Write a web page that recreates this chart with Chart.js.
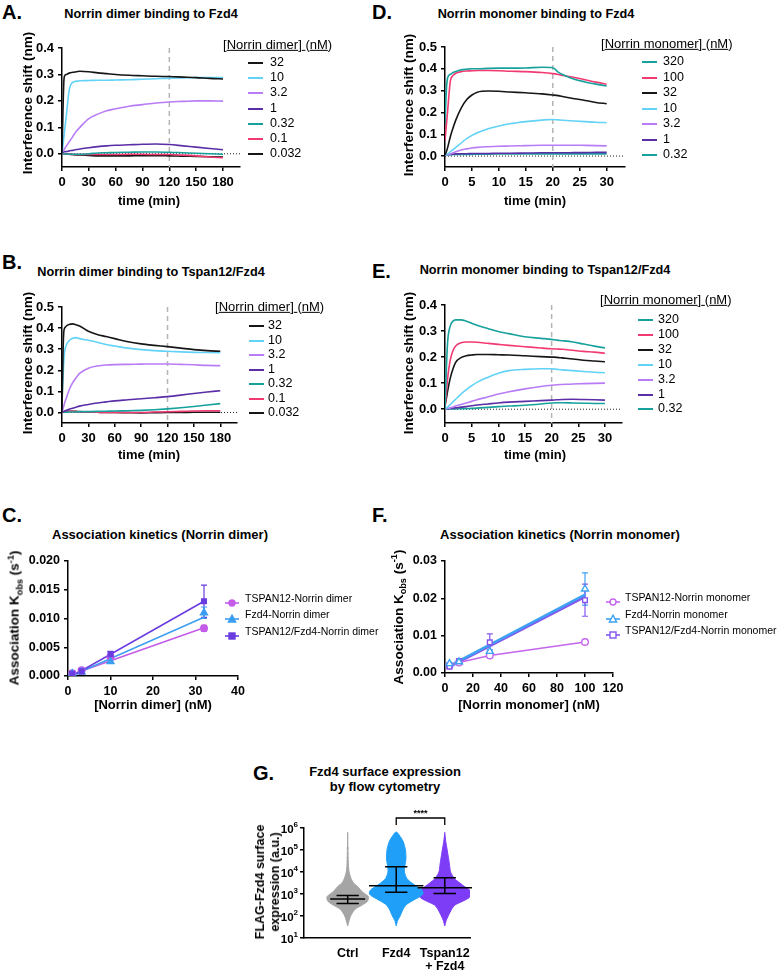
<!DOCTYPE html>
<html>
<head>
<meta charset="utf-8">
<title>Norrin binding kinetics</title>
<script src="https://cdn.jsdelivr.net/npm/chart.js@4.4.1/dist/chart.umd.min.js"></script>
<style>
  html, body { margin: 0; padding: 0; background: #fff; }
  body { position: relative; width: 779px; height: 970px; overflow: hidden;
         font-family: 'Liberation Sans', Arial, Helvetica, sans-serif; color: #000; }
  canvas { position: absolute; }
  .t { position: absolute; white-space: nowrap; line-height: 1.1; }
  .t sub, .t sup { font-size: 0.68em; line-height: 0; }
  .key { position: absolute; height: 2px; }
</style>
</head>
<body>
<script>
// ---------- BLI traces, Norrin dimer (A, B) ----------
const aT = [0, 1, 2, 3, 5, 8, 12, 16, 20, 30, 40, 50, 60, 75, 90, 105, 120, 135, 150, 165, 180];
const a32    = [0.0, 0.15, 0.27, 0.295, 0.30, 0.305, 0.308, 0.31, 0.312, 0.31, 0.306, 0.303, 0.30, 0.297, 0.295, 0.293, 0.292, 0.29, 0.288, 0.285, 0.283];
const a10    = [0.0, 0.03, 0.06, 0.09, 0.15, 0.24, 0.27, 0.274, 0.276, 0.277, 0.278, 0.278, 0.279, 0.28, 0.282, 0.284, 0.286, 0.287, 0.288, 0.288, 0.288];
const a3_2   = [0.005, 0.01, 0.015, 0.02, 0.03, 0.045, 0.065, 0.085, 0.10, 0.133, 0.15, 0.163, 0.17, 0.18, 0.186, 0.192, 0.196, 0.198, 0.2, 0.2, 0.199];
const a1     = [0.005, 0.006, 0.007, 0.008, 0.008, 0.011, 0.013, 0.016, 0.018, 0.023, 0.027, 0.03, 0.032, 0.034, 0.036, 0.037, 0.035, 0.03, 0.025, 0.02, 0.015];
const a0_32  = [0.0, 0.0, 0.0, -0.001, -0.001, -0.002, -0.002, -0.002, -0.002, 0.0, 0.003, 0.004, 0.005, 0.006, 0.007, 0.007, 0.006, 0.004, 0.002, 0.0, -0.002];
const a0_1   = [0.0, 0.0, 0.0, 0.0, -0.001, -0.002, -0.003, -0.003, -0.003, -0.003, -0.003, -0.003, -0.003, -0.002, -0.002, -0.003, -0.003, -0.005, -0.008, -0.012, -0.015];
const a0_032 = [0.0, 0.0, 0.0, 0.0, -0.001, -0.002, -0.003, -0.004, -0.004, -0.006, -0.008, -0.008, -0.008, -0.008, -0.007, -0.007, -0.008, -0.009, -0.01, -0.011, -0.012];

const b32    = [0.0, 0.25, 0.38, 0.40, 0.41, 0.417, 0.42, 0.416, 0.41, 0.385, 0.37, 0.36, 0.35, 0.335, 0.325, 0.318, 0.312, 0.305, 0.298, 0.293, 0.29];
const b10    = [0.06, 0.15, 0.24, 0.29, 0.32, 0.34, 0.352, 0.355, 0.35, 0.342, 0.333, 0.322, 0.315, 0.305, 0.298, 0.293, 0.29, 0.287, 0.285, 0.284, 0.283];
const b3_2   = [0.0, 0.015, 0.03, 0.045, 0.07, 0.105, 0.14, 0.165, 0.185, 0.21, 0.22, 0.225, 0.227, 0.228, 0.229, 0.23, 0.23, 0.228, 0.226, 0.223, 0.222];
const b1     = [0.0, 0.002, 0.004, 0.006, 0.01, 0.015, 0.02, 0.025, 0.03, 0.038, 0.045, 0.05, 0.055, 0.06, 0.065, 0.07, 0.075, 0.082, 0.09, 0.097, 0.103];
const b0_32  = [0.0, 0.0, 0.001, 0.001, 0.001, 0.002, 0.002, 0.002, 0.003, 0.004, 0.005, 0.006, 0.007, 0.008, 0.01, 0.013, 0.017, 0.022, 0.028, 0.035, 0.042];
const b0_1   = [0.0, 0.002, 0.003, 0.004, 0.005, 0.005, 0.005, 0.004, 0.003, 0.002, 0.001, 0.0, 0.0, 0.0, 0.0, 0.002, 0.003, 0.005, 0.007, 0.008, 0.008];
const b0_032 = [0.0, 0.003, 0.004, 0.005, 0.006, 0.006, 0.006, 0.005, 0.004, 0.002, 0.001, 0.0, 0.0, -0.001, -0.002, -0.001, 0.0, 0.0, 0.001, 0.001, 0.001];

// ---------- BLI traces, Norrin monomer (D, E) ----------
const dT = [0, 0.25, 0.5, 1, 1.5, 2, 3, 4, 5, 6, 8, 10, 12, 15, 18, 20, 21, 22, 24, 26, 28, 30];
const d320  = [0.15, 0.30, 0.36, 0.375, 0.383, 0.388, 0.395, 0.398, 0.40, 0.40, 0.402, 0.403, 0.403, 0.404, 0.407, 0.405, 0.385, 0.372, 0.352, 0.34, 0.33, 0.321];
const d100  = [0.07, 0.14, 0.21, 0.345, 0.37, 0.38, 0.387, 0.39, 0.391, 0.392, 0.392, 0.391, 0.389, 0.387, 0.383, 0.378, 0.374, 0.369, 0.36, 0.35, 0.339, 0.329];
const d32   = [0.005, 0.02, 0.04, 0.09, 0.13, 0.165, 0.22, 0.258, 0.28, 0.293, 0.298, 0.297, 0.294, 0.29, 0.285, 0.28, 0.277, 0.272, 0.263, 0.255, 0.246, 0.24];
const d10   = [0.005, 0.007, 0.01, 0.02, 0.03, 0.04, 0.06, 0.08, 0.095, 0.107, 0.125, 0.138, 0.148, 0.158, 0.165, 0.168, 0.166, 0.164, 0.161, 0.158, 0.155, 0.153];
const d3_2  = [0.005, 0.006, 0.007, 0.01, 0.015, 0.02, 0.028, 0.033, 0.037, 0.04, 0.043, 0.045, 0.046, 0.048, 0.05, 0.05, 0.05, 0.05, 0.05, 0.049, 0.048, 0.047];
const d1    = [0.005, 0.006, 0.007, 0.008, 0.009, 0.01, 0.011, 0.011, 0.012, 0.012, 0.012, 0.013, 0.013, 0.014, 0.015, 0.015, 0.015, 0.015, 0.016, 0.016, 0.017, 0.017];
const d0_32 = [0.005, 0.005, 0.006, 0.006, 0.007, 0.008, 0.008, 0.008, 0.008, 0.009, 0.009, 0.01, 0.01, 0.01, 0.01, 0.01, 0.01, 0.01, 0.01, 0.01, 0.01, 0.01];

const e320  = [0.0, 0.15, 0.26, 0.32, 0.338, 0.343, 0.343, 0.338, 0.33, 0.322, 0.31, 0.298, 0.29, 0.278, 0.272, 0.268, 0.265, 0.263, 0.258, 0.25, 0.242, 0.235];
const e100  = [0.0, 0.06, 0.12, 0.19, 0.225, 0.243, 0.255, 0.258, 0.258, 0.257, 0.253, 0.249, 0.245, 0.24, 0.235, 0.232, 0.231, 0.23, 0.226, 0.222, 0.219, 0.215];
const e32   = [0.015, 0.04, 0.07, 0.12, 0.155, 0.18, 0.198, 0.205, 0.208, 0.21, 0.21, 0.209, 0.208, 0.205, 0.202, 0.2, 0.199, 0.197, 0.193, 0.188, 0.185, 0.182];
const e10   = [0.0, 0.004, 0.008, 0.018, 0.028, 0.038, 0.058, 0.075, 0.09, 0.103, 0.122, 0.138, 0.148, 0.153, 0.155, 0.155, 0.153, 0.151, 0.148, 0.145, 0.142, 0.14];
const e3_2  = [0.0, 0.002, 0.003, 0.005, 0.008, 0.012, 0.018, 0.024, 0.03, 0.036, 0.047, 0.058, 0.067, 0.078, 0.087, 0.092, 0.094, 0.095, 0.097, 0.098, 0.099, 0.1];
const e1    = [0.0, 0.001, 0.002, 0.003, 0.004, 0.005, 0.008, 0.01, 0.013, 0.016, 0.02, 0.024, 0.027, 0.03, 0.033, 0.035, 0.036, 0.037, 0.038, 0.037, 0.036, 0.035];
const e0_32 = [0.0, 0.0, 0.0, 0.001, 0.001, 0.001, 0.002, 0.002, 0.003, 0.004, 0.007, 0.01, 0.012, 0.015, 0.02, 0.024, 0.025, 0.025, 0.024, 0.023, 0.022, 0.022];

const dimerConc = ['32', '10', '3.2', '1', '0.32', '0.1', '0.032'];
const monoConc = ['320', '100', '32', '10', '3.2', '1', '0.32'];

// ---------- association kinetics (C, F) ----------
const cConc = [1, 3.2, 10, 32];
const cTspan12 = [0.0005, 0.001, 0.0033, 0.0083];
const cTspan12Err = [0.0002, 0.0002, 0.0003, 0.0005];
const cFzd4 = [0.0004, 0.0007, 0.0025, 0.011];
const cFzd4Err = [0.0002, 0.0002, 0.0003, 0.001];
const cBoth = [0.0004, 0.0008, 0.0038, 0.013];
const cBothErr = [0.0002, 0.0003, 0.0005, 0.0028];
const cFitX = [1, 32];
const cFitTspan12 = [0.0003, 0.0084];
const cFitFzd4 = [0.0001, 0.0102];
const cFitBoth = [0.0, 0.013];

const fConc = [3.2, 10, 32, 100];
const fTspan12 = [0.002, 0.0028, 0.0047, 0.0083];
const fTspan12Err = [0.0003, 0.0003, 0.0005, 0.0003];
const fFzd4 = [0.0025, 0.003, 0.0058, 0.0225];
const fFzd4Err = [0.0003, 0.0003, 0.0005, 0.0043];
const fBoth = [0.0017, 0.0032, 0.0082, 0.0195];
const fBothErr = [0.0003, 0.0004, 0.0023, 0.0043];
const fFitX = [3.2, 100];
const fFitFzd4 = [0.0019, 0.021];
const fFitBoth = [0.0016, 0.0204];

const timeTicksDimer = [0, 30, 60, 90, 120, 150, 180];
const timeTicksMono = [0, 5, 10, 15, 20, 25, 30];
const shiftTicks4 = [0, 0.1, 0.2, 0.3, 0.4];
const shiftTicks5 = [0, 0.1, 0.2, 0.3, 0.4, 0.5];

// ---------- flow cytometry (G) ----------
const gCats = ['Ctrl', 'Fzd4', ['Tspan12', '+ Fzd4']];
const gLevels = [1.55, 1.8, 2.0, 2.3, 2.5, 2.65, 2.8, 2.9, 3.0, 3.1, 3.2, 3.35, 3.5, 3.7, 4.0, 4.3, 4.6, 5.0, 5.4, 5.8];   // log10 of signal
const gWidthCtrl   = [0, 0.03, 0.06, 0.15, 0.3, 0.4, 0.43, 0.42, 0.36, 0.3, 0.26, 0.2, 0.12, 0.07, 0.03, 0.015, 0.01, 0.005, 0, 0];
const gWidthFzd4   = [0, 0.03, 0.08, 0.14, 0.2, 0.3, 0.42, 0.5, 0.55, 0.55, 0.52, 0.42, 0.32, 0.22, 0.17, 0.18, 0.2, 0.19, 0.14, 0.02];
const gWidthTspan  = [0, 0.03, 0.07, 0.14, 0.21, 0.35, 0.48, 0.53, 0.55, 0.54, 0.5, 0.4, 0.31, 0.2, 0.12, 0.1, 0.08, 0.05, 0.02, 0];
const gCtrlSparse  = [9000, 14000, 22000, 30000, 45000, 70000, 110000, 125000];
const gMedian = [600, 2400, 1900];
const gLow = [370, 1200, 1050];
const gHigh = [860, 17500, 5500];
const gLogTicks = [1e1, 1e2, 1e3, 1e4, 1e5, 1e6];

// ---------- colours ----------
const black = '#161616', cyan = '#62d2f6', lav = '#b77cf6', purple = '#5a2ea6', teal = '#17a19c', pink = '#f23a72';
const dimerColors = [black, cyan, lav, purple, teal, pink, black];
const monoColors = [teal, pink, black, cyan, lav, purple, teal];

Chart.defaults.font.family = "'Liberation Sans', Arial, Helvetica, sans-serif";
Chart.defaults.color = '#000';
Chart.defaults.animation = false;

// vertical dashed line (end of association) and dotted zero line
const refLines = {
  id: 'refLines',
  beforeDatasetsDraw(chart, args, o) {
    const { ctx, chartArea: a, scales: { x, y } } = chart;
    ctx.save();
    if (o.hy != null) {
      const py = y.getPixelForValue(o.hy);
      ctx.strokeStyle = '#222'; ctx.lineWidth = 1; ctx.setLineDash([1, 2]);
      ctx.beginPath(); ctx.moveTo(a.left, py); ctx.lineTo(a.right, py); ctx.stroke();
    }
    if (o.vx != null) {
      const px = x.getPixelForValue(o.vx);
      ctx.strokeStyle = '#b4b4b4'; ctx.lineWidth = 1.5; ctx.setLineDash([5, 4]);
      ctx.beginPath(); ctx.moveTo(px, a.top); ctx.lineTo(px, a.bottom); ctx.stroke();
    }
    ctx.restore();
  }
};

// error bars stored on the datasets as `err`
const errorBars = {
  id: 'errorBars',
  beforeDatasetsDraw(chart) {
    const { ctx, scales: { x, y } } = chart;
    chart.data.datasets.forEach(ds => {
      if (!ds.err) return;
      ctx.save();
      ctx.strokeStyle = ds.pointBorderColor; ctx.lineWidth = 1.2;
      ds.data.forEach((p, j) => {
        const px = x.getPixelForValue(p.x);
        const hi = y.getPixelForValue(p.y + ds.err[j]);
        const lo = y.getPixelForValue(Math.max(p.y - ds.err[j], 0));
        ctx.beginPath();
        ctx.moveTo(px, hi); ctx.lineTo(px, lo);
        ctx.moveTo(px - 3, hi); ctx.lineTo(px + 3, hi);
        ctx.moveTo(px - 3, lo); ctx.lineTo(px + 3, lo);
        ctx.stroke();
      });
      ctx.restore();
    });
  }
};

Chart.register(refLines, errorBars);

// ---------- helpers ----------
function place(plot, yW, xH, padTop, padRight) {
  const c = document.createElement('canvas');
  const left = plot.l - yW, top = plot.t - padTop;
  const w = plot.r + padRight - left, h = plot.b + xH - top;
  c.width = w; c.height = h;
  c.style.left = left + 'px'; c.style.top = top + 'px';
  c.style.width = w + 'px'; c.style.height = h + 'px';
  document.body.appendChild(c);
  return { canvas: c, padding: { left: 0, top: padTop, right: padRight, bottom: 0 } };
}

function axis(kind, min, max, ticks, fmt, size, fontSize) {
  return {
    type: 'linear', min, max, bounds: 'data',
    afterBuildTicks: s => { s.ticks = ticks.map(v => ({ value: v })); },
    afterFit: s => { if (kind === 'x') s.height = size; else s.width = size; },
    grid: { display: true, drawOnChartArea: false, drawTicks: true, tickLength: 4, color: '#000', lineWidth: 1.5 },
    border: { display: true, color: '#000', width: 1.5 },
    ticks: { callback: fmt, color: '#000', padding: 4, autoSkip: false, maxRotation: 0,
             font: { size: fontSize, weight: 'bold' } }
  };
}

function txt(html, x, y, o = {}) {
  const d = document.createElement('div');
  d.className = 't';
  d.innerHTML = html;
  d.style.left = x + 'px'; d.style.top = y + 'px';
  d.style.fontSize = (o.size || 13) + 'px';
  d.style.fontWeight = o.bold === false ? 'normal' : 'bold';
  if (o.lh) d.style.lineHeight = o.lh;
  d.style.textAlign = 'center';
  const ax = o.left ? '0' : '-50%';
  d.style.transform = `translate(${ax}, -50%)` + (o.rot ? ' rotate(-90deg)' : '');
  document.body.appendChild(d);
  return d;
}

function traceLegend(lineX, textX, y0, step, labels, colors) {
  labels.forEach((lab, i) => {
    const y = y0 + i * step;
    const k = document.createElement('div');
    k.className = 'key';
    k.style.left = lineX + 'px'; k.style.top = (y - 1) + 'px'; k.style.width = '15px';
    k.style.background = colors[i];
    document.body.appendChild(k);
    txt(lab, textX, y, { left: true, bold: false, size: 12.5 });
  });
}

function kinetics(p) {
  const pl = place(p.plot, 44, 26, 12, 16);
  new Chart(pl.canvas, {
    type: 'scatter',
    data: {
      datasets: p.traces.map((vals, i) => ({
        label: p.labels[i],
        data: vals.map((v, j) => ({ x: p.t[j], y: v })),
        showLine: true, pointRadius: 0, borderWidth: 1.6,
        borderColor: p.colors[i], cubicInterpolationMode: 'monotone'
      }))
    },
    options: {
      responsive: false, layout: { padding: pl.padding },
      plugins: { legend: { display: false }, tooltip: { enabled: false }, refLines: { vx: p.vx, hy: 0 } },
      scales: {
        x: axis('x', 0, p.xMax, p.xTicks, v => String(v), 26, 13),
        y: axis('y', p.yMin, p.yMax, p.yTicks, v => v.toFixed(1), 44, 13)
      }
    }
  });
}

function markerSvg(color, shape, filled) {
  const f = filled ? color : '#fff';
  let m;
  if (shape === 'circle') m = `<circle cx="7" cy="5" r="3" fill="${f}" stroke="${color}" stroke-width="1.4"/>`;
  else if (shape === 'triangle') m = `<polygon points="7,1.2 10.6,8 3.4,8" fill="${f}" stroke="${color}" stroke-width="1.4"/>`;
  else m = `<rect x="4" y="2" width="6" height="6" fill="${f}" stroke="${color}" stroke-width="1.4"/>`;
  return `<svg width="14" height="10"><line x1="0" y1="5" x2="14" y2="5" stroke="${color}" stroke-width="1.6"/>${m}</svg>`;
}

function assocLegend(x, textX, y0, step, items) {
  items.forEach((it, i) => {
    const y = y0 + i * step;
    const d = document.createElement('div');
    d.style.position = 'absolute'; d.style.left = x + 'px'; d.style.top = (y - 5) + 'px';
    d.innerHTML = markerSvg(it.color, it.shape, it.filled);
    document.body.appendChild(d);
    txt(it.label, textX, y, { left: true, bold: false, size: 10.5 });
  });
}

function assoc(p) {
  const pl = place(p.plot, 46, 24, 12, 16);
  const datasets = [];
  p.series.forEach(s => {
    datasets.push({
      data: s.x.map((x, j) => ({ x, y: s.y[j] })), err: s.err,
      showLine: !!s.connect, borderColor: s.color, borderWidth: 1.5,
      pointStyle: s.shape === 'square' ? 'rect' : s.shape, pointRadius: s.shape === 'triangle' ? 4 : 3.3,
      pointBackgroundColor: s.filled ? s.color : '#fff', pointBorderColor: s.color, pointBorderWidth: 1.4
    });
  });
  p.series.forEach(s => {
    if (!s.fitX) return;
    datasets.push({
      data: s.fitX.map((x, j) => ({ x, y: s.fitY[j] })),
      showLine: true, pointRadius: 0, borderColor: s.color, borderWidth: s.fitWidth || 1.6
    });
  });
  new Chart(pl.canvas, {
    type: 'scatter',
    data: { datasets },
    options: {
      responsive: false, layout: { padding: pl.padding },
      plugins: { legend: { display: false }, tooltip: { enabled: false } },
      scales: {
        x: axis('x', 0, p.xMax, p.xTicks, v => String(v), 24, 12.5),
        y: axis('y', 0, p.yMax, p.yTicks, p.yFmt, 46, 12.5)
      }
    }
  });
}

// ---------- panels A, B, D, E ----------
kinetics({ plot: { l: 62, t: 48, r: 240, b: 167 }, yMin: -0.05, yMax: 0.4, yTicks: shiftTicks4,
  xMax: 199, xTicks: timeTicksDimer, t: aT, vx: 120, labels: dimerConc, colors: dimerColors,
  traces: [a32, a10, a3_2, a1, a0_32, a0_1, a0_032] });
kinetics({ plot: { l: 62, t: 307, r: 237, b: 423 }, yMin: -0.05, yMax: 0.5, yTicks: shiftTicks5,
  xMax: 199, xTicks: timeTicksDimer, t: aT, vx: 120, labels: dimerConc, colors: dimerColors,
  traces: [b32, b10, b3_2, b1, b0_32, b0_1, b0_032] });
kinetics({ plot: { l: 445, t: 47, r: 625, b: 167 }, yMin: -0.05, yMax: 0.5, yTicks: shiftTicks5,
  xMax: 33.4, xTicks: timeTicksMono, t: dT, vx: 20, labels: monoConc, colors: monoColors,
  traces: [d320, d100, d32, d10, d3_2, d1, d0_32] });
kinetics({ plot: { l: 445, t: 305, r: 622, b: 423 }, yMin: -0.053, yMax: 0.4, yTicks: shiftTicks4,
  xMax: 33.2, xTicks: timeTicksMono, t: dT, vx: 20, labels: monoConc, colors: monoColors,
  traces: [e320, e100, e32, e10, e3_2, e1, e0_32] });

// ---------- panels C, F ----------
const cMag = '#c35ce9', cBlue = '#3b9ef2', cViolet = '#6a3de0';
const fMag = '#c466ec', fBlue = '#3ea2f4', fViolet = '#8456ee';
assoc({ plot: { l: 68, t: 561, r: 238, b: 676 }, xMax: 40, xTicks: [0, 10, 20, 30, 40],
  yMax: 0.02, yTicks: [0, 0.005, 0.01, 0.015, 0.02], yFmt: v => v.toFixed(3),
  series: [
    { x: cConc, y: cBoth, err: cBothErr, color: cViolet, shape: 'square', filled: true, fitX: cFitX, fitY: cFitBoth },
    { x: cConc, y: cFzd4, err: cFzd4Err, color: cBlue, shape: 'triangle', filled: true, fitX: cFitX, fitY: cFitFzd4 },
    { x: cConc, y: cTspan12, err: cTspan12Err, color: cMag, shape: 'circle', filled: true, fitX: cFitX, fitY: cFitTspan12 }
  ] });
assoc({ plot: { l: 445, t: 561, r: 613, b: 673 }, xMax: 120, xTicks: [0, 20, 40, 60, 80, 100, 120],
  yMax: 0.03, yTicks: [0, 0.01, 0.02, 0.03], yFmt: v => v.toFixed(2),
  series: [
    { x: fConc, y: fFzd4, err: fFzd4Err, color: fBlue, shape: 'triangle', filled: false, fitX: fFitX, fitY: fFitFzd4, fitWidth: 2.4 },
    { x: fConc, y: fBoth, err: fBothErr, color: fViolet, shape: 'square', filled: false, fitX: fFitX, fitY: fFitBoth, fitWidth: 2.4 },
    { x: fConc, y: fTspan12, err: fTspan12Err, color: fMag, shape: 'circle', filled: false, connect: true }
  ] });

// ---------- panel G ----------
const gGray = '#a5a5a5', gBlue = '#1f9ff8', gPurple = '#7d3cf6';
function violin(cat, widths) {
  const right = gLevels.map((L, i) => ({ x: cat + widths[i], y: Math.pow(10, L) }));
  const left = gLevels.map((L, i) => ({ x: cat - widths[i], y: Math.pow(10, L) })).reverse();
  return right.concat(left);
}
const flowStats = {
  id: 'flowStats',
  afterDatasetsDraw(chart) {
    const { ctx, chartArea: a, scales: { x, y } } = chart;
    ctx.save();
    ctx.strokeStyle = '#000'; ctx.lineWidth = 1.5;
    gMedian.forEach((m, i) => {
      const c = i + 1, px = x.getPixelForValue(c);
      const mh = x.getPixelForValue(c + (i === 0 ? 0.36 : 0.56)) - px;
      const ch = x.getPixelForValue(c + 0.23) - px;
      const pm = y.getPixelForValue(m), lo = y.getPixelForValue(gLow[i]), hi = y.getPixelForValue(gHigh[i]);
      ctx.beginPath();
      ctx.moveTo(px - mh, pm); ctx.lineTo(px + mh, pm);
      ctx.moveTo(px, lo); ctx.lineTo(px, hi);
      ctx.moveTo(px - ch, lo); ctx.lineTo(px + ch, lo);
      ctx.moveTo(px - ch, hi); ctx.lineTo(px + ch, hi);
      ctx.stroke();
    });
    // significance bracket Fzd4 vs Tspan12 + Fzd4
    const x2 = x.getPixelForValue(2), x3 = x.getPixelForValue(3), by = a.top - 10;
    ctx.lineWidth = 1.3;
    ctx.beginPath(); ctx.moveTo(x2, by + 7); ctx.lineTo(x2, by); ctx.lineTo(x3, by); ctx.lineTo(x3, by + 7); ctx.stroke();
    ctx.fillStyle = '#000'; ctx.textAlign = 'center'; ctx.textBaseline = 'alphabetic';
    ctx.font = "bold 9px 'Liberation Sans', Arial, sans-serif";
    ctx.fillText('****', (x2 + x3) / 2, by - 2);
    // log tick labels 10^n
    gLogTicks.forEach(v => {
      const py = y.getPixelForValue(v), n = Math.round(Math.log10(v));
      ctx.font = "bold 8px 'Liberation Sans', Arial, sans-serif";
      const ws = ctx.measureText(String(n)).width;
      const xe = a.left - 6;
      ctx.textAlign = 'left';
      ctx.fillText(String(n), xe - ws, py - 1);
      ctx.font = "bold 11.5px 'Liberation Sans', Arial, sans-serif";
      const wb = ctx.measureText('10').width;
      ctx.fillText('10', xe - ws - wb, py + 5);
    });
    ctx.restore();
  }
};
(function () {
  const plot = { l: 304, t: 828, r: 470, b: 938 };
  const pl = place(plot, 50, 42, 26, 12);
  const shape = (data, color) => ({ data, showLine: true, fill: 'shape', tension: 0.25, pointRadius: 0,
    borderColor: color, backgroundColor: color, borderWidth: 1 });
  new Chart(pl.canvas, {
    type: 'scatter',
    data: {
      datasets: [
        shape(violin(1, gWidthCtrl), gGray),
        shape(violin(2, gWidthFzd4), gBlue),
        shape(violin(3, gWidthTspan), gPurple),
        { data: gCtrlSparse.map(v => ({ x: 1, y: v })), pointRadius: 1, pointBackgroundColor: '#b8b8b8', pointBorderWidth: 0 }
      ]
    },
    options: {
      responsive: false, layout: { padding: pl.padding },
      plugins: { legend: { display: false }, tooltip: { enabled: false } },
      scales: {
        x: { type: 'linear', min: 0.1, max: 3.52, bounds: 'data',
             afterBuildTicks: s => { s.ticks = [1, 2, 3].map(v => ({ value: v })); },
             afterFit: s => { s.height = 42; },
             grid: { display: false, drawTicks: false }, border: { display: true, color: '#000', width: 1.5 },
             ticks: { callback: v => gCats[v - 1], padding: 9, autoSkip: false, maxRotation: 0,
                      font: { size: 12.5, weight: 'bold', lineHeight: 1.05 }, color: '#000' } },
        y: { type: 'logarithmic', min: 10, max: 1e6,
             afterBuildTicks: s => { s.ticks = gLogTicks.map(v => ({ value: v })); },
             afterFit: s => { s.width = 50; },
             grid: { display: true, drawOnChartArea: false, drawTicks: true, tickLength: 4, color: '#000', lineWidth: 1.5 },
             border: { display: true, color: '#000', width: 1.5 },
             ticks: { display: false } }
      }
    },
    plugins: [flowStats]
  });
})();

// ---------- text ----------
const legendTitle = name => `[<u>${name}</u>]<u>&nbsp;</u>(<u>nM</u>)`;
txt('A.', 2, 12, { left: true, size: 20 });
txt('D.', 372, 12, { left: true, size: 20 });
txt('B.', 2, 262, { left: true, size: 20 });
txt('E.', 372, 271, { left: true, size: 20 });
txt('C.', 2, 515, { left: true, size: 20 });
txt('F.', 372, 515, { left: true, size: 20 });
txt('G.', 253, 773, { left: true, size: 20 });

txt('Norrin dimer binding to Fzd4', 151, 15, { size: 12.7 });
txt('Norrin monomer binding to Fzd4', 536, 15, { size: 12.7 });
txt('Norrin dimer binding to Tspan12/Fzd4', 151, 273, { size: 12.7 });
txt('Norrin monomer binding to Tspan12/Fzd4', 545, 271, { size: 12.7 });
txt('Association kinetics (Norrin dimer)', 160, 535);
txt('Association kinetics (Norrin monomer)', 560, 535);
txt('Fzd4 surface expression<br>by flow cytometry', 385, 779, { lh: '14.5px' });

txt('Interference shift (nm)', 28, 103, { rot: true, size: 13.5 });
txt('Interference shift (nm)', 28, 363, { rot: true, size: 13.5 });
txt('Interference shift (nm)', 409, 105, { rot: true, size: 13.5 });
txt('Interference shift (nm)', 409, 363, { rot: true, size: 13.5 });
txt('time (min)', 149, 201);
txt('time (min)', 535, 201);
txt('time (min)', 149, 455);
txt('time (min)', 535, 455);
txt('[Norrin dimer] (nM)', 153, 705);
txt('[Norrin monomer] (nM)', 529, 705);
txt('Association K<sub>obs</sub> (s<sup>-1</sup>)', 15, 618, { rot: true, size: 13.5 });
txt('Association K<sub>obs</sub> (s<sup>-1</sup>)', 399, 617, { rot: true, size: 13.5 });
txt('FLAG-Fzd4 surface<br>expression (a.u.)', 268, 882, { rot: true, size: 12.5, lh: '15px' });

txt(legendTitle('Norrin dimer'), 223, 45, { left: true, bold: false });
txt(legendTitle('Norrin dimer'), 215, 307, { left: true, bold: false });
txt(legendTitle('Norrin monomer'), 601, 44, { left: true, bold: false });
txt(legendTitle('Norrin monomer'), 600, 300, { left: true, bold: false });
traceLegend(248, 270, 63, 15.2, dimerConc, dimerColors);
traceLegend(249, 268, 326, 14.5, dimerConc, dimerColors);
traceLegend(642, 663, 62, 15.5, monoConc, monoColors);
traceLegend(638, 658, 320, 14.9, monoConc, monoColors);

assocLegend(225, 245, 599, 16.3, [
  { label: 'TSPAN12-Norrin dimer', color: cMag, shape: 'circle', filled: true },
  { label: 'Fzd4-Norrin dimer', color: cBlue, shape: 'triangle', filled: true },
  { label: 'TSPAN12/Fzd4-Norrin dimer', color: cViolet, shape: 'square', filled: true }
]);
assocLegend(606, 625, 598, 16.7, [
  { label: 'TSPAN12-Norrin monomer', color: fMag, shape: 'circle', filled: false },
  { label: 'Fzd4-Norrin monomer', color: fBlue, shape: 'triangle', filled: false },
  { label: 'TSPAN12/Fzd4-Norrin monomer', color: fViolet, shape: 'square', filled: false }
]);
</script>
</body>
</html>
